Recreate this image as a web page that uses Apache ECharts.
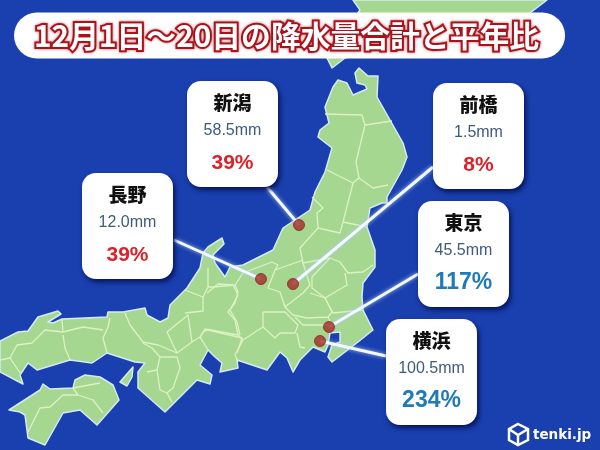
<!DOCTYPE html>
<html>
<head>
<meta charset="utf-8">
<style>html,body{margin:0;padding:0;background:#1a3fae}#main{width:600px;height:450px}</style>
<script src="https://cdn.jsdelivr.net/npm/echarts@6/dist/echarts.min.js"></script>
</head>
<body>
<div id="main"></div>
<script>
const titleText = '12月1日～20日の降水量合計と平年比';
const cityNames = ['新潟', '長野', '前橋', '東京', '横浜'];
const rainMm = [58.5, 12.0, 1.5, 45.5, 100.5];
const ratioPct = [39, 39, 8, 117, 234];

// 地点の位置（地図の座標系）
const cityPoints = [[299, 225], [261, 279], [293, 284], [329, 327], [320, 341]];
const cardBoxes = [[187, 81], [82, 173], [433, 83], [418, 201], [386, 319]];
const leaderEnds = [[267, 187], [174, 240], [433, 167], [418, 274], [386, 356]];

// 陸地の輪郭
const honshu = [[0,341],[18,332],[28,331],[38,317],[58,311],[61,314],[48,322],[53,323],[62,319],[107,317],[108,312],[123,312],[145,308],[147,315],[160,322],[168,318],[170,305],[187,288],[200,268],[203,253],[208,247],[222,238],[224,244],[213,255],[215,263],[225,277],[230,267],[243,265],[273,250],[283,228],[310,210],[315,192],[325,172],[332,148],[318,137],[320,130],[329,123],[325,107],[333,87],[338,80],[347,83],[353,95],[367,89],[365,85],[357,83],[355,73],[359,68],[368,76],[378,76],[377,97],[390,120],[403,143],[407,157],[402,170],[387,197],[387,203],[382,203],[370,208],[367,227],[375,250],[375,267],[363,283],[362,297],[363,310],[373,330],[358,342],[332,362],[328,357],[332,345],[340,342],[340,332],[330,333],[328,345],[325,352],[313,347],[300,360],[293,372],[287,358],[280,352],[267,370],[237,360],[238,368],[220,372],[222,363],[215,357],[208,350],[200,365],[212,375],[210,384],[197,380],[165,412],[138,388],[138,372],[145,363],[135,362],[107,353],[92,363],[70,360],[37,370],[28,363],[20,375],[23,384],[0,372]];
const shikoku = [[9,410],[40,390],[43,384],[50,389],[73,388],[75,380],[85,375],[100,377],[113,385],[119,400],[97,425],[80,410],[63,413],[45,445],[28,438],[25,415],[20,412]];
const awaji = [[120,382],[133,367],[132,377],[127,386]];
const hokkaido = [[353,0],[360,10],[327,58],[332,68],[345,58],[530,13],[547,0]];
const landShapes = [honshu, shikoku, awaji, hokkaido];

// 県境
const borders = [
  [[325,114],[362,115],[365,125],[392,121]],
  [[365,125],[356,162],[359,178]],
  [[327,170],[353,183],[359,178],[373,188],[388,185]],
  [[353,183],[343,222],[340,233],[318,228]],
  [[312,197],[323,208],[317,213],[318,228],[300,248],[303,263],[330,258],[340,262],[348,273],[363,272],[373,265]],
  [[343,222],[367,227]],
  [[303,260],[275,270],[278,265],[272,262],[243,273],[235,285],[213,287],[208,287]],
  [[275,270],[268,288],[280,292],[285,307],[303,293],[310,285],[303,263]],
  [[330,258],[312,277],[312,288],[325,298],[347,285],[345,273]],
  [[310,293],[325,298],[332,312],[328,317],[307,318],[293,315],[285,307]],
  [[325,298],[333,313],[363,310]],
  [[328,317],[332,325]],
  [[295,317],[303,325],[328,325]],
  [[263,312],[285,312],[298,325],[295,333],[280,333],[275,338],[263,327],[263,312]],
  [[297,333],[300,347],[305,348]],
  [[263,327],[243,340],[235,355],[238,362]],
  [[235,285],[238,292],[235,303],[228,312],[235,320],[238,335],[243,340]],
  [[238,335],[205,329],[200,338]],
  [[208,268],[208,287],[203,297],[185,290]],
  [[203,297],[203,311],[185,313]],
  [[207,293],[218,284],[233,285],[238,295],[230,310],[237,322],[240,335]],
  [[188,315],[192,342],[200,337],[203,332],[208,330],[242,338],[237,353]],
  [[200,337],[208,350]],
  [[188,315],[167,332],[177,353],[192,342]],
  [[125,313],[130,325],[143,342],[158,345],[177,353]],
  [[143,343],[152,348],[160,357],[157,370],[147,372]],
  [[160,357],[177,357],[180,368],[173,388],[167,393],[160,390],[157,370]],
  [[167,393],[172,402]],
  [[110,318],[108,327],[103,338],[107,353]],
  [[62,320],[63,332],[83,327],[103,330]],
  [[63,335],[65,348],[70,360]],
  [[63,332],[45,330],[32,343],[17,345],[10,358],[20,373]],
  [[0,360],[10,358]],
  [[73,388],[100,383]],
  [[73,388],[78,395],[93,400],[103,413]],
  [[78,395],[63,395],[50,407],[40,408],[28,432]]
];

const JP = '"Noto Sans CJK JP", sans-serif';
const LAT = '"Liberation Sans", Arial, sans-serif';
const CARD_W = 91, CARD_H = 106;

function toPixels(api, pts) {
  return pts.map(p => api.coord(p));
}

var myChart = echarts.init(document.querySelector('#main'));
var option = {
  animation: false,
  backgroundColor: '#1a3fae',
  title: {
    text: titleText,
    left: 16,
    top: 13,
    padding: [6, 24, 6, 18],
    backgroundColor: '#ffffff',
    borderRadius: 23,
    textStyle: {
      fontFamily: JP,
      fontSize: 29.8,
      fontWeight: 'bold',
      lineHeight: 33,
      color: '#ffffff',
      textBorderColor: '#b5121b',
      textBorderWidth: 4,
      textShadowColor: 'rgba(120,20,30,0.6)',
      textShadowBlur: 3
    }
  },
  grid: { left: 0, right: 0, top: 0, bottom: 0 },
  xAxis: { type: 'value', min: 0, max: 600, show: false },
  yAxis: { type: 'value', min: 0, max: 450, inverse: true, show: false },
  graphic: [
    { type: 'polygon', z: 20, shape: { points: [[518, 424], [528, 429], [528, 440], [518, 445], [509, 440], [509, 429]] },
      style: { fill: 'none', stroke: '#ffffff', lineWidth: 2.5 } },
    { type: 'polyline', z: 20, shape: { points: [[509, 429], [518, 435], [528, 429]] },
      style: { fill: 'none', stroke: '#ffffff', lineWidth: 2.5 } },
    { type: 'line', z: 20, shape: { x1: 518, y1: 435, x2: 518, y2: 445 },
      style: { stroke: '#ffffff', lineWidth: 2.5 } },
    { type: 'text', z: 20, x: 533, y: 428,
      style: { text: 'tenki.jp', fill: '#ffffff', font: 'bold 13.5px "DejaVu Sans"' } }
  ],
  series: [
    {
      type: 'custom',
      coordinateSystem: 'cartesian2d',
      z: 2,
      silent: true,
      data: landShapes.map((_, i) => [i]),
      renderItem: (params, api) => ({
        type: 'polygon',
        shape: { points: toPixels(api, landShapes[params.dataIndex]) },
        style: { fill: '#a6d790', stroke: '#d5e9f6', lineWidth: 1.5, lineJoin: 'round' }
      })
    },
    {
      type: 'custom',
      coordinateSystem: 'cartesian2d',
      z: 3,
      silent: true,
      data: borders.map((_, i) => [i]),
      renderItem: (params, api) => ({
        type: 'polyline',
        shape: { points: toPixels(api, borders[params.dataIndex]) },
        style: { fill: 'none', stroke: '#dcf2c4', lineWidth: 1.3, lineJoin: 'round' }
      })
    },
    {
      type: 'custom',
      coordinateSystem: 'cartesian2d',
      z: 4,
      silent: true,
      data: cityNames.map((_, i) => [i]),
      renderItem: (params, api) => ({
        type: 'line',
        shape: (() => {
          const a = api.coord(cityPoints[params.dataIndex]);
          const b = api.coord(leaderEnds[params.dataIndex]);
          return { x1: a[0], y1: a[1], x2: b[0], y2: b[1] };
        })(),
        style: { stroke: '#f4f9ff', lineWidth: 3, shadowColor: 'rgba(170,205,245,0.95)', shadowBlur: 4 }
      })
    },
    {
      type: 'scatter',
      z: 5,
      silent: true,
      symbolSize: 11,
      itemStyle: { color: '#a52a28', borderColor: '#8b2420', borderWidth: 1 },
      data: cityPoints
    },
    {
      type: 'custom',
      coordinateSystem: 'cartesian2d',
      z: 6,
      silent: true,
      data: cityNames.map((_, i) => [i]),
      renderItem: (params, api) => {
        const i = params.dataIndex;
        const p = api.coord(cardBoxes[i]);
        const cx = p[0] + CARD_W / 2;
        const up = ratioPct[i] >= 100;
        return {
          type: 'group',
          children: [
            { type: 'rect', shape: { x: p[0], y: p[1], width: CARD_W, height: CARD_H, r: 14 },
              style: { fill: '#ffffff', shadowColor: '#05145a', shadowBlur: 5, shadowOffsetX: 2, shadowOffsetY: 3 } },
            { type: 'text', x: cx, y: p[1] + 22,
              style: { text: cityNames[i], fill: '#111111', font: `900 19px ${JP}`, textAlign: 'center', textVerticalAlign: 'middle' } },
            { type: 'text', x: cx, y: p[1] + 50,
              style: { text: rainMm[i].toFixed(1) + 'mm', fill: '#3f5a7e', font: `16px ${LAT}`, textAlign: 'center', textVerticalAlign: 'middle' } },
            { type: 'text', x: cx, y: p[1] + 82,
              style: { text: ratioPct[i] + '%', fill: up ? '#1f7ab8' : '#dd2029', font: `bold ${up ? 23 : 21}px ${LAT}`, textAlign: 'center', textVerticalAlign: 'middle' } }
          ]
        };
      }
    }
  ]
};
myChart.setOption(option);
</script>
</body>
</html>
